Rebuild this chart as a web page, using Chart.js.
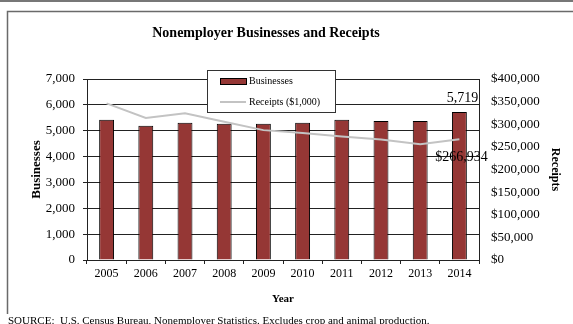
<!DOCTYPE html>
<html>
<head>
<meta charset="utf-8">
<script src="https://cdn.jsdelivr.net/npm/chart.js@4/dist/chart.umd.min.js"></script>
<style>
  html, body { margin: 0; padding: 0; background: #fff; }
  #wrap { position: relative; width: 573px; height: 324px; }
</style>
</head>
<body>
<div id="wrap"><canvas id="chart" width="573" height="324"></canvas></div>
<script>
// Nonemployer businesses and receipts, 2005-2014
const years = ['2005', '2006', '2007', '2008', '2009', '2010', '2011', '2012', '2013', '2014'];
const businesses = [5423, 5192, 5308, 5269, 5269, 5308, 5423, 5372, 5372, 5719];
const receipts = [346000, 314000, 324500, 305500, 287000, 280600, 273000, 266500, 256000, 266934];

const leftTicks = { min: 0, max: 7000, step: 1000 };
const rightTicks = { min: 0, max: 400000, step: 50000 };

const titleText = 'Nonemployer Businesses and Receipts';
const sourceText = 'SOURCE:  U.S. Census Bureau, Nonemployer Statistics. Excludes crop and animal production.';

const SERIF = "'Liberation Serif', 'Times New Roman', serif";
const BAR_COLOR = '#953735';
const LINE_COLOR = '#c3c3c3';
const GRID_COLOR = '#222';

// Frame, title, legend, value labels and source note
const decorations = {
  id: 'decorations',
  beforeDraw(chart) {
    const ctx = chart.ctx;
    ctx.save();
    ctx.fillStyle = '#fff';
    ctx.fillRect(0, 0, chart.width, chart.height);
    ctx.strokeStyle = '#777';
    ctx.lineWidth = 2;
    ctx.beginPath();
    ctx.moveTo(0, 1); ctx.lineTo(chart.width, 1);
    ctx.stroke();
    ctx.strokeStyle = '#6a6a6a';
    ctx.lineWidth = 1.5;
    ctx.beginPath();
    ctx.moveTo(7.5, 314); ctx.lineTo(7.5, 11.5); ctx.lineTo(chart.width, 11.5);
    ctx.stroke();
    ctx.restore();
  },
  afterDraw(chart) {
    const ctx = chart.ctx;
    const x = chart.scales.x, y = chart.scales.y, y1 = chart.scales.y1;
    ctx.save();

    // title
    ctx.fillStyle = '#000';
    ctx.font = 'bold 14px ' + SERIF;
    ctx.textAlign = 'center';
    ctx.textBaseline = 'middle';
    ctx.fillText(titleText, 266, 33);

    // value labels for the last year
    const last = years.length - 1;
    ctx.font = '14px ' + SERIF;
    ctx.textAlign = 'center';
    ctx.textBaseline = 'bottom';
    ctx.fillText(businesses[last].toLocaleString('en-US'),
      x.getPixelForValue(last) + 3, y.getPixelForValue(businesses[last]) - 7);
    ctx.textBaseline = 'middle';
    ctx.fillText('$' + receipts[last].toLocaleString('en-US'),
      x.getPixelForValue(last) + 2, y1.getPixelForValue(receipts[last]) + 18);

    // legend
    const lx = 207, ly = 70, lw = 128, lh = 42;
    ctx.fillStyle = '#fff';
    ctx.fillRect(lx, ly, lw, lh);
    ctx.strokeStyle = '#333';
    ctx.lineWidth = 1;
    ctx.strokeRect(lx + 0.5, ly + 0.5, lw, lh);
    const ds = chart.data.datasets;
    ctx.fillStyle = ds[0].backgroundColor;
    ctx.fillRect(220, 78, 26, 6);
    ctx.strokeStyle = '#000';
    ctx.strokeRect(220.5, 78.5, 26, 6);
    ctx.strokeStyle = ds[1].borderColor;
    ctx.lineWidth = 2;
    ctx.beginPath();
    ctx.moveTo(220, 102); ctx.lineTo(246, 102);
    ctx.stroke();
    ctx.fillStyle = '#000';
    ctx.font = '10px ' + SERIF;
    ctx.textAlign = 'left';
    ctx.textBaseline = 'middle';
    ctx.fillText(ds[0].label, 249, 81.5);
    ctx.fillText(ds[1].label, 249, 102.5);

    // source note
    ctx.font = '11px ' + SERIF;
    ctx.textBaseline = 'alphabetic';
    ctx.fillText(sourceText, 8, 324);
    ctx.restore();
  }
};

new Chart(document.getElementById('chart'), {
  data: {
    labels: years,
    datasets: [
      {
        type: 'bar',
        label: 'Businesses',
        data: businesses,
        yAxisID: 'y',
        backgroundColor: BAR_COLOR,
        borderColor: '#000',
        borderWidth: 1,
        barPercentage: 0.38,
        categoryPercentage: 1,
        order: 2
      },
      {
        type: 'line',
        label: 'Receipts ($1,000)',
        data: receipts,
        yAxisID: 'y1',
        borderColor: LINE_COLOR,
        borderWidth: 2,
        pointRadius: 0,
        tension: 0,
        order: 1
      }
    ]
  },
  options: {
    responsive: false,
    animation: false,
    layout: { padding: { top: 79, left: 0, right: 0, bottom: 0 } },
    plugins: {
      legend: { display: false },
      title: { display: false },
      tooltip: { enabled: false }
    },
    scales: {
      x: {
        position: 'bottom',
        grid: { offset: true, drawOnChartArea: false, drawTicks: true, tickLength: 4, color: GRID_COLOR },
        border: { display: true, color: GRID_COLOR },
        ticks: { color: '#000', font: { family: SERIF, size: 12 }, padding: 3, maxRotation: 0 },
        title: { display: true, text: 'Year', color: '#000', font: { family: SERIF, size: 11, weight: 'bold' }, padding: { top: 0, bottom: 18 } },
        afterFit(scale) { scale.height = 64; }
      },
      y: {
        position: 'left',
        min: leftTicks.min,
        max: leftTicks.max,
        grid: { color: GRID_COLOR, tickLength: 4 },
        border: { display: true, color: GRID_COLOR },
        ticks: {
          stepSize: leftTicks.step,
          color: '#000',
          font: { family: SERIF, size: 13 },
          padding: 8,
          callback: v => v.toLocaleString('en-US')
        },
        title: { display: true, text: 'Businesses', color: '#000', font: { family: SERIF, size: 13, weight: 'bold' }, padding: { top: 29, bottom: 0 } },
        afterFit(scale) { scale.width = 87; }
      },
      y1: {
        position: 'right',
        min: rightTicks.min,
        max: rightTicks.max,
        grid: { drawOnChartArea: false, drawTicks: false },
        border: { display: true, color: GRID_COLOR },
        ticks: {
          stepSize: rightTicks.step,
          color: '#000',
          font: { family: SERIF, size: 13 },
          padding: 12,
          callback: v => '$' + v.toLocaleString('en-US')
        },
        title: { display: true, text: 'Receipts', color: '#000', font: { family: SERIF, size: 12, weight: 'bold' }, padding: { top: 11, bottom: 0 } },
        afterFit(scale) { scale.width = 94; }
      }
    }
  },
  plugins: [decorations]
});
</script>
</body>
</html>
